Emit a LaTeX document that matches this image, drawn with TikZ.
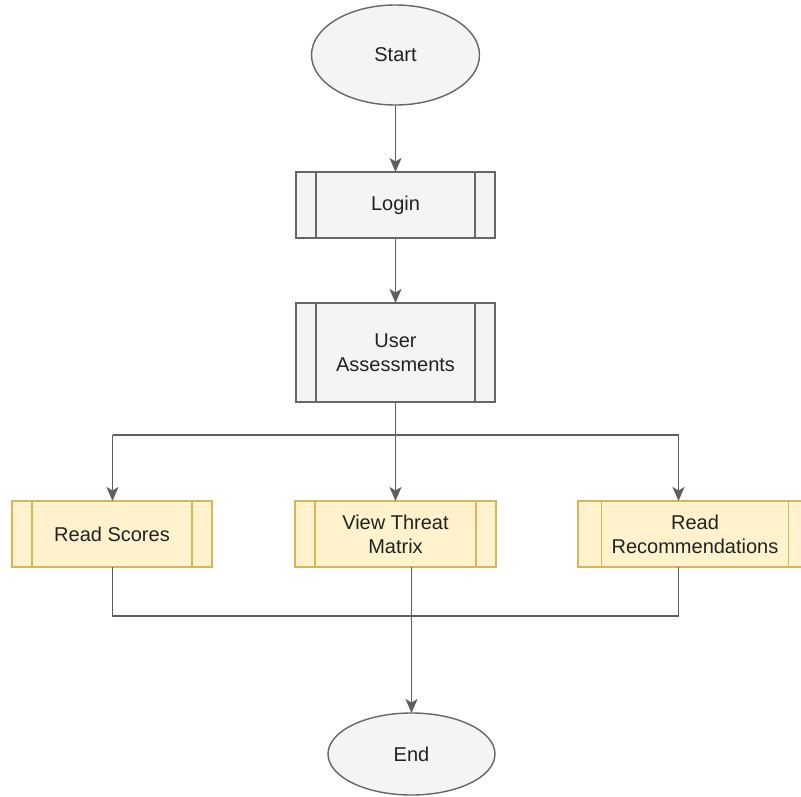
\documentclass[tikz,border=0pt]{standalone}
\usepackage{fontspec}
\setmainfont{Liberation Sans}
\usetikzlibrary{arrows.meta,shapes.geometric,calc}
\definecolor{greyfill}{HTML}{F4F4F4}
\definecolor{greyline}{HTML}{666666}
\definecolor{yelfill}{HTML}{FFF2CC}
\definecolor{yelline}{HTML}{D6B656}
\definecolor{wire}{HTML}{5F5F5F}
\definecolor{ink}{HTML}{222222}
\tikzset{
  x=1pt, y=-1pt,
  base/.style={inner sep=0pt, outer sep=0pt, line width=1.4pt, text=ink,
    font=\fontsize{20}{24}\selectfont, align=center},
  terminal/.style={base, ellipse, draw=greyline, fill=greyfill},
  proc/.style={base, rectangle, minimum height=66pt,
    path picture={
      \draw[line width=1.4pt, draw=#1]
        ($(path picture bounding box.north west)!0.1!(path picture bounding box.north east)$) --
        ($(path picture bounding box.south west)!0.1!(path picture bounding box.south east)$);
      \draw[line width=1.4pt, draw=#1]
        ($(path picture bounding box.north east)!0.1!(path picture bounding box.north west)$) --
        ($(path picture bounding box.south east)!0.1!(path picture bounding box.south west)$);
    }},
  greyproc/.style={proc=greyline, draw=greyline, fill=greyfill},
  yelproc/.style={proc=yelline, draw=yelline, fill=yelfill},
  flow/.style={draw=wire, line width=1.6pt},
  arr/.style={flow, -{Stealth[length=14pt, width=12pt, inset=3.5pt]}}
}
\begin{document}
\begin{tikzpicture}
  \useasboundingbox (0,0) rectangle (801,797);
  \clip (0,0) rectangle (801,797);
  \fill[white] (0,0) rectangle (801,797);

  % nodes
  \node[terminal, minimum width=168pt, minimum height=100pt] (start) at (395.5,55) {Start};
  \node[greyproc, minimum width=199pt] (login) at (395.5,205) {Login};
  \node[greyproc, minimum width=199pt, minimum height=99pt] (ua) at (395.5,352.5) {User\\Assessments};
  \node[yelproc, minimum width=200pt] (rs) at (112,534) {Read Scores};
  \node[yelproc, minimum width=201pt] (vtm) at (395.5,534) {View Threat\\Matrix};
  \node[yelproc, minimum width=234pt] (rr) at (695,534) {Read\\Recommendations};
  \node[terminal, minimum width=167pt, minimum height=82pt] (end) at (411.5,754) {End};

  % junction points of the two buses
  \coordinate (split) at (395.5,435);
  \coordinate (jl) at (112.5,435);
  \coordinate (jr) at (678.5,435);
  \coordinate (ml) at (112.5,616);
  \coordinate (mr) at (678.5,616);

  % connectors
  \draw[arr] (start.south) -- (login.north);
  \draw[arr] (login.south) -- (ua.north);
  \draw[flow] (ua.south) -- (split);
  \draw[flow] (jl) -- (jr);
  \draw[arr] (jl) -- (jl |- rs.north);
  \draw[arr] (split) -- (vtm.north);
  \draw[arr] (jr) -- (jr |- rr.north);
  \draw[flow] (ml |- rs.south) -- (ml) -- (mr) -- (mr |- rr.south);
  \draw[arr] (vtm.south -| end.north) -- (end.north);
\end{tikzpicture}
\end{document}
